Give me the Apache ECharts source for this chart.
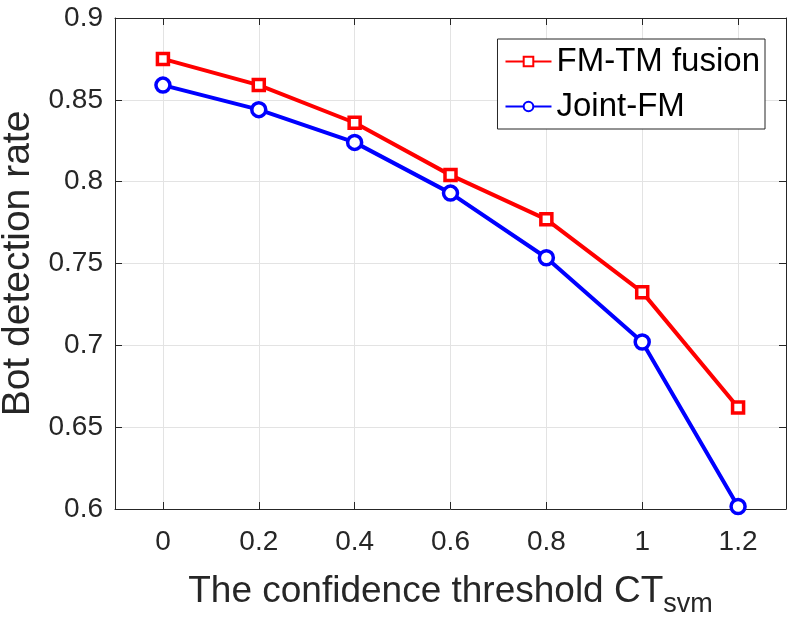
<!DOCTYPE html>
<html>
<head>
<meta charset="utf-8">
<script src="https://cdn.jsdelivr.net/npm/echarts@6/dist/echarts.min.js"></script>
<style>
  html, body { margin: 0; padding: 0; background: #fff; }
  #chart { width: 797px; height: 627px; }
</style>
</head>
<body>
<div id="chart"></div>
<script>
// thresholds CT_svm
const thresholds = [0, 0.2, 0.4, 0.6, 0.8, 1.0, 1.2]
const fusionRate = [0.875, 0.859, 0.836, 0.804, 0.777, 0.7325, 0.662]
const jointRate = [0.859, 0.844, 0.824, 0.793, 0.7535, 0.702, 0.6015]
const xTicks = [0, 0.2, 0.4, 0.6, 0.8, 1, 1.2]

const textColor = '#262626'
const font = 'Liberation Sans, Arial, Helvetica, sans-serif'

const chart = echarts.init(document.getElementById('chart'))

const pairs = arr => thresholds.map((x, i) => [x, arr[i]])

const option = {
  animation: false,
  backgroundColor: '#fff',
  textStyle: { fontFamily: font },
  grid: { left: 115, top: 18, width: 671, height: 491, containLabel: false, outerBoundsMode: 'none' },
  legend: {
    right: 32,
    top: 39,
    orient: 'vertical',
    backgroundColor: '#fff',
    borderColor: '#262626',
    borderWidth: 1,
    padding: [6, 5, 6, 7],
    itemGap: 12,
    itemWidth: 46,
    itemHeight: 12,
    textStyle: { fontSize: 33, color: '#000', fontFamily: font, padding: [0, 0, 0, 0] },
    data: ['FM-TM fusion', 'Joint-FM']
  },
  xAxis: [
    {
      type: 'value',
      min: -0.1,
      max: 1.3,
      name: '{a|The confidence threshold CT}{b|svm}',
      nameLocation: 'middle',
      nameGap: 56,
      nameTextStyle: {
        rich: {
          a: { fontSize: 37, color: textColor, fontFamily: font },
          b: { fontSize: 27, color: textColor, fontFamily: font, padding: [26, 0, 0, 0] }
        }
      },
      axisLine: { show: true, onZero: false, lineStyle: { color: textColor, width: 1 } },
      axisTick: { show: true, inside: true, length: 7, customValues: xTicks, lineStyle: { color: textColor } },
      axisLabel: { customValues: xTicks, fontSize: 28, color: textColor, margin: 19, fontFamily: font },
      splitLine: { show: true, lineStyle: { color: '#e3e3e3', width: 1 } }
    },
    {
      type: 'value',
      position: 'top',
      min: -0.1,
      max: 1.3,
      axisLine: { show: true, onZero: false, lineStyle: { color: textColor, width: 1 } },
      axisTick: { show: true, inside: true, length: 7, customValues: xTicks, lineStyle: { color: textColor } },
      axisLabel: { show: false },
      splitLine: { show: false }
    }
  ],
  yAxis: [
    {
      type: 'value',
      min: 0.6,
      max: 0.9,
      interval: 0.05,
      name: 'Bot detection rate',
      nameLocation: 'middle',
      nameGap: 75,
      nameTextStyle: { fontSize: 39, color: textColor, fontFamily: font },
      axisLine: { show: true, onZero: false, lineStyle: { color: textColor, width: 1 } },
      axisTick: { show: true, inside: true, length: 7, lineStyle: { color: textColor } },
      axisLabel: { fontSize: 28, color: textColor, margin: 12, fontFamily: font, formatter: v => String(+v.toFixed(2)) },
      splitLine: { show: true, lineStyle: { color: '#e3e3e3', width: 1 } }
    },
    {
      type: 'value',
      position: 'right',
      min: 0.6,
      max: 0.9,
      interval: 0.05,
      axisLine: { show: true, onZero: false, lineStyle: { color: textColor, width: 1 } },
      axisTick: { show: true, inside: true, length: 7, lineStyle: { color: textColor } },
      axisLabel: { show: false },
      splitLine: { show: false }
    }
  ],
  series: [
    {
      name: 'FM-TM fusion',
      type: 'line',
      data: pairs(fusionRate),
      symbol: 'rect',
      symbolSize: 11,
      lineStyle: { color: '#ff0000', width: 4 },
      itemStyle: { color: '#ffffff', borderColor: '#ff0000', borderWidth: 3.5 },
      z: 3
    },
    {
      name: 'Joint-FM',
      type: 'line',
      data: pairs(jointRate),
      symbol: 'circle',
      symbolSize: 14,
      lineStyle: { color: '#0000ff', width: 4 },
      itemStyle: { color: '#ffffff', borderColor: '#0000ff', borderWidth: 3.5 },
      z: 3
    }
  ]
}

chart.setOption(option)
window.addEventListener('resize', () => chart.resize(), false)
</script>
</body>
</html>
